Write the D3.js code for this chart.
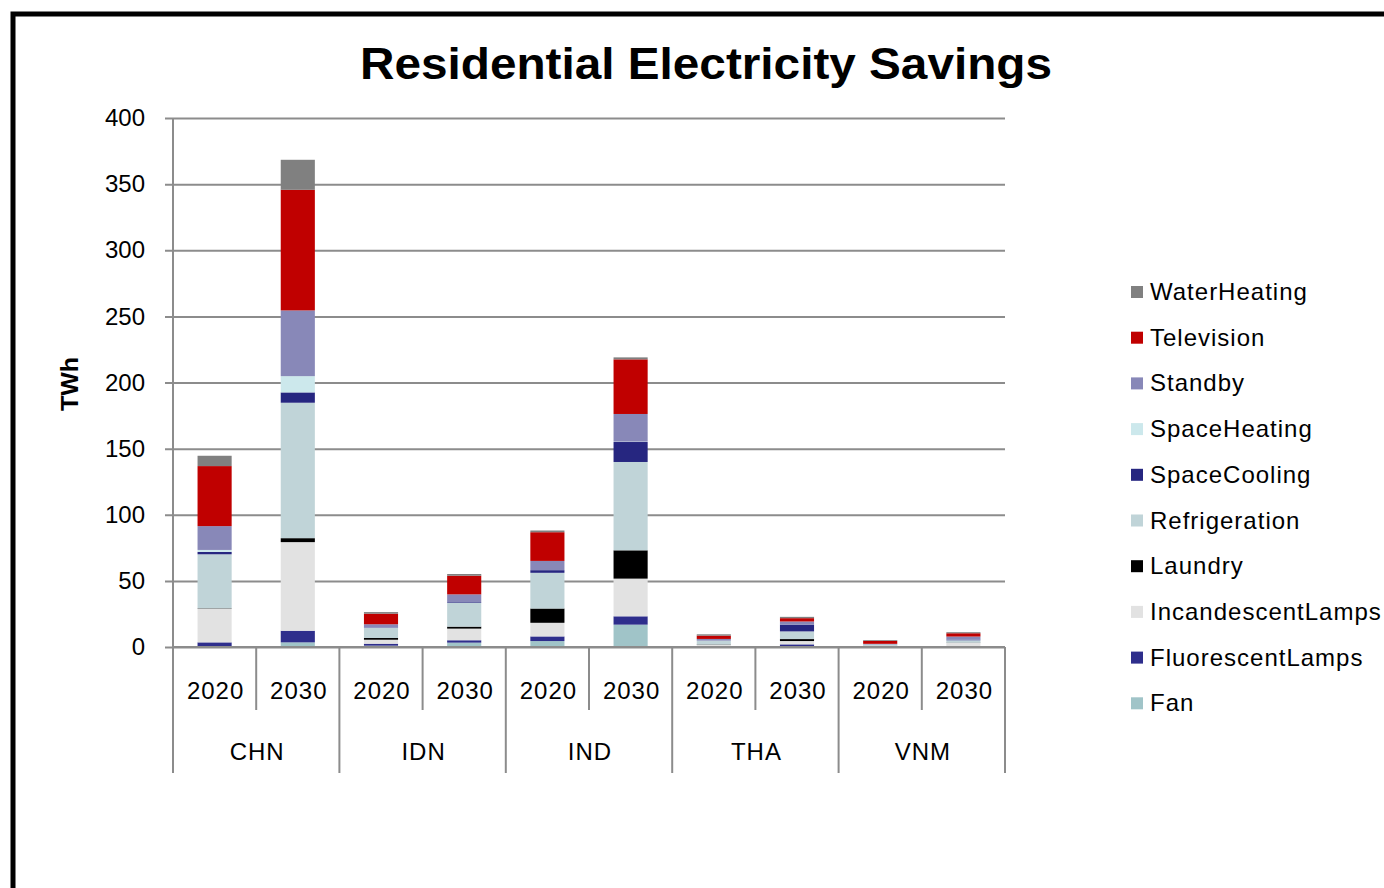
<!DOCTYPE html>
<html>
<head>
<meta charset="utf-8">
<script src="https://cdn.jsdelivr.net/npm/d3@7"></script>
<style>
  body { margin: 0; background: #fff; }
  text { font-family: Arial, "Liberation Sans", sans-serif; fill: #000; }
</style>
</head>
<body>
<svg id="mainSvg"></svg>
<script>
var WIDTH = 1384;
var HEIGHT = 888;

// data (TWh)
var COUNTRIES = ["CHN", "IDN", "IND", "THA", "VNM"];
var YEARS = ["2020", "2030"];
var Y_TICKS = [0, 50, 100, 150, 200, 250, 300, 350, 400];

// stacking order, bottom first
var SERIES = ["Fan", "FluorescentLamps", "IncandescentLamps", "Laundry", "Refrigeration",
  "SpaceCooling", "SpaceHeating", "Standby", "Television", "WaterHeating"];
var COLORS = ["#a0c4c8", "#2e2e8c", "#e2e2e2", "#000000", "#c0d4d8",
  "#262680", "#cce8ec", "#8888b8", "#c00000", "#808080"];

// values per bar: CHN 2020, CHN 2030, IDN 2020, IDN 2030, IND 2020, IND 2030, THA ..., VNM ...
var fan           = [0.5, 3.5, 1.0, 3.3, 4.5, 16.9, 0.3, 0.5, 0.2, 0.3];
var fluorescent   = [3.0, 8.8, 1.5, 1.8, 3.5, 6.3, 0.3, 1.5, 0.2, 0.3];
var incandescent  = [25.5, 67.0, 3.0, 8.8, 10.3, 28.5, 1.0, 2.5, 0.5, 2.5];
var laundry       = [0.3, 3.0, 1.3, 1.5, 10.8, 21.4, 0.3, 1.5, 0.1, 0.2];
var refrigeration = [40.8, 102.4, 7.6, 18.1, 27.0, 66.8, 3.0, 5.8, 1.0, 1.8];
var spaceCooling  = [1.8, 7.8, 0.3, 0.5, 2.0, 15.1, 0.2, 5.0, 0.1, 0.3];
var spaceHeating  = [1.5, 12.3, 0, 0, 0, 0.3, 0, 0, 0, 0];
var standby       = [18.0, 49.7, 2.5, 5.8, 7.0, 20.9, 1.0, 2.5, 0.3, 2.5];
var television    = [45.4, 91.2, 8.0, 14.1, 21.7, 41.3, 2.5, 2.5, 2.2, 2.5];
var waterHeating  = [7.8, 22.7, 1.2, 1.3, 1.3, 1.5, 1.0, 1.0, 0.6, 0.8];

var VALUES = [fan, fluorescent, incandescent, laundry, refrigeration,
  spaceCooling, spaceHeating, standby, television, waterHeating];

var PLOT = { left: 173, right: 1005, top: 118, bottom: 647 };

// one row per bar, built from the arrays above
var rows = [];
COUNTRIES.forEach(function (c, ci) {
  YEARS.forEach(function (y, yi) {
    var row = { key: c + "-" + y, country: c, year: y };
    SERIES.forEach(function (s, si) { row[s] = VALUES[si][ci * YEARS.length + yi]; });
    rows.push(row);
  });
});

function render() {
  var svg = d3.select("#mainSvg")
    .attr("width", WIDTH)
    .attr("height", HEIGHT);

  // outer frame
  svg.append("rect")
    .attr("x", 13).attr("y", 14)
    .attr("width", WIDTH + 20).attr("height", HEIGHT + 20)
    .attr("fill", "none")
    .attr("stroke", "#000")
    .attr("stroke-width", 5);

  var x = d3.scaleBand()
    .domain(rows.map(function (d) { return d.key; }))
    .range([PLOT.left, PLOT.right])
    .paddingInner(0.59)
    .paddingOuter(0.295);

  var y = d3.scaleLinear()
    .domain([0, 400])
    .range([PLOT.bottom, PLOT.top]);

  // gridlines + y axis
  var yAxis = d3.axisLeft(y)
    .tickValues(Y_TICKS)
    .tickSize(-(PLOT.right - PLOT.left))
    .tickPadding(28);
  var gy = svg.append("g")
    .attr("transform", "translate(" + PLOT.left + ",0)")
    .call(yAxis);
  gy.select(".domain").remove();
  gy.selectAll(".tick line")
    .attr("x1", -8)
    .attr("stroke", "#8c8c8c")
    .attr("stroke-width", 2);
  gy.selectAll(".tick text")
    .attr("font-size", 24)
    .attr("font-family", "Arial, 'Liberation Sans', sans-serif")
    .attr("fill", "#000");
  svg.append("line")
    .attr("x1", PLOT.left).attr("x2", PLOT.left)
    .attr("y1", PLOT.top).attr("y2", PLOT.bottom)
    .attr("stroke", "#8c8c8c").attr("stroke-width", 2);

  // stacked bars
  var stack = d3.stack().keys(SERIES);
  var layers = stack(rows);
  svg.append("g").selectAll("g")
    .data(layers)
    .enter().append("g")
    .attr("fill", function (d, i) { return COLORS[i]; })
    .selectAll("rect")
    .data(function (d) { return d; })
    .enter().append("rect")
    .attr("x", function (d) { return x(d.data.key); })
    .attr("width", x.bandwidth())
    .attr("y", function (d) { return y(d[1]); })
    .attr("height", function (d) { return Math.max(0, y(d[0]) - y(d[1])); });

  // category axis: baseline, separators and two label rows
  var step = x.step();
  var half = step * x.paddingInner() / 2;
  var gx = svg.append("g");
  gx.append("line")
    .attr("x1", PLOT.left).attr("x2", PLOT.right)
    .attr("y1", PLOT.bottom).attr("y2", PLOT.bottom)
    .attr("stroke", "#8c8c8c").attr("stroke-width", 2);

  rows.forEach(function (d, i) {
    var left = x(d.key) - half;
    var isGroupStart = d.year === YEARS[0];
    gx.append("line")
      .attr("x1", left).attr("x2", left)
      .attr("y1", PLOT.bottom).attr("y2", isGroupStart ? 773 : 710)
      .attr("stroke", "#8c8c8c").attr("stroke-width", 2);
    gx.append("text")
      .attr("x", x(d.key) + x.bandwidth() / 2 + 1)
      .attr("y", 699)
      .attr("text-anchor", "middle")
      .attr("font-size", 24)
      .attr("letter-spacing", 1)
      .text(d.year);
  });
  gx.append("line")
    .attr("x1", PLOT.right).attr("x2", PLOT.right)
    .attr("y1", PLOT.bottom).attr("y2", 773)
    .attr("stroke", "#8c8c8c").attr("stroke-width", 2);

  COUNTRIES.forEach(function (c) {
    var a = x(c + "-" + YEARS[0]);
    var b = x(c + "-" + YEARS[YEARS.length - 1]) + x.bandwidth();
    gx.append("text")
      .attr("x", (a + b) / 2 + 1)
      .attr("y", 760)
      .attr("text-anchor", "middle")
      .attr("font-size", 24)
      .attr("letter-spacing", 1)
      .text(c);
  });

  // title and axis title
  svg.append("text")
    .attr("x", 706).attr("y", 79)
    .attr("text-anchor", "middle")
    .attr("font-size", 45)
    .attr("font-weight", "bold")
    .attr("textLength", 692)
    .attr("lengthAdjust", "spacingAndGlyphs")
    .text("Residential Electricity Savings");

  svg.append("text")
    .attr("transform", "translate(78,384) rotate(-90)")
    .attr("text-anchor", "middle")
    .attr("font-size", 24)
    .attr("font-weight", "bold")
    .attr("textLength", 54)
    .attr("lengthAdjust", "spacingAndGlyphs")
    .text("TWh");

  // legend, top entry is the last series
  var legend = svg.append("g");
  var order = SERIES.slice().reverse();
  order.forEach(function (s, i) {
    var cy = 292 + i * 45.7;
    legend.append("rect")
      .attr("x", 1131).attr("y", cy - 6)
      .attr("width", 12).attr("height", 12)
      .attr("fill", COLORS[SERIES.indexOf(s)]);
    legend.append("text")
      .attr("x", 1150).attr("y", cy + 8)
      .attr("font-size", 24)
      .attr("letter-spacing", 1)
      .text(s);
  });
}

render();
</script>
</body>
</html>
